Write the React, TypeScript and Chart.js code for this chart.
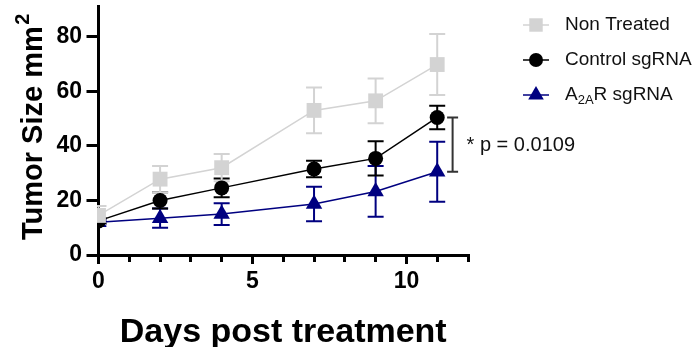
import React, { useEffect, useRef } from 'react';
import { Chart, registerables } from 'chart.js';
import { drawPoint } from 'chart.js/helpers';

Chart.register(...registerables);

const days = [0, 2, 4, 7, 9, 11];
const nonTreated = [14.5, 27.8, 32, 53, 56.5, 69.8];
const nonTreatedErr = [3.5, 4.8, 5, 8.4, 8.2, 11.2];
const control = [12.5, 20, 24.6, 31.5, 35.4, 50.4];
const controlErr = [1, 3, 3.4, 3, 6.3, 4.3];
const a2ar = [12, 13.5, 15, 18.7, 23.3, 30.5];
const a2arErr = [0.8, 3.5, 4, 6.3, 9.3, 11];

const seriesLabels = ['Non Treated', 'Control sgRNA', 'A2AR sgRNA'];
const a2arLabelParts = ['A', '2A', 'R sgRNA'];
const yTicks = [0, 20, 40, 60, 80];
const xMajorTicks = [0, 5, 10];
const xMinorTicks = [0, 1, 2, 3, 4, 5, 6, 7, 8, 9, 10, 11, 12];
const xTitle = 'Days post treatment';
const yTitle = 'Tumor Size mm';
const yTitleSup = '2';
const pValueLabel = '* p = 0.0109';
const bracketDay = 11.5;

const FONT = "'Liberation Sans', Arial, Helvetica, sans-serif";
const GRAY = '#d3d3d3';
const BLACK = '#000000';
const NAVY = '#000080';

const values = [nonTreated, control, a2ar];
const errors = [nonTreatedErr, controlErr, a2arErr];
const colors = [GRAY, BLACK, NAVY];
const styles = ['rect', 'circle', 'triangle'];
const radii = [10.5, 7.5, 9.5];

const errorBarPlugin = {
  id: 'errorBars',
  beforeDatasetsDraw(chart: any) {
    const ctx = chart.ctx;
    const xs = chart.scales.x;
    const ys = chart.scales.y;
    const area = chart.chartArea;
    ctx.save();
    ctx.beginPath();
    ctx.rect(area.left - 1.5, 0, chart.width, chart.height);
    ctx.clip();
    for (let i = values.length - 1; i >= 0; i--) {
      ctx.strokeStyle = colors[i];
      ctx.lineWidth = 2;
      days.forEach((d, j) => {
        const px = xs.getPixelForValue(d);
        const top = ys.getPixelForValue(values[i][j] + errors[i][j]);
        const bot = ys.getPixelForValue(values[i][j] - errors[i][j]);
        ctx.beginPath();
        ctx.moveTo(px, top);
        ctx.lineTo(px, bot);
        ctx.moveTo(px - 8, top);
        ctx.lineTo(px + 8, top);
        ctx.moveTo(px - 8, bot);
        ctx.lineTo(px + 8, bot);
        ctx.stroke();
      });
    }
    ctx.restore();
  },
};

const annotationPlugin = {
  id: 'annotations',
  afterDraw(chart: any) {
    const ctx = chart.ctx;
    const xs = chart.scales.x;
    const ys = chart.scales.y;
    const area = chart.chartArea;
    ctx.save();

    // Y title
    ctx.save();
    ctx.translate(42, 240);
    ctx.rotate(-Math.PI / 2);
    ctx.fillStyle = BLACK;
    ctx.textAlign = 'left';
    ctx.textBaseline = 'alphabetic';
    ctx.font = `bold 29px ${FONT}`;
    ctx.fillText(yTitle, 0, 0);
    const w = ctx.measureText(yTitle).width;
    ctx.font = `bold 20px ${FONT}`;
    ctx.fillText(yTitleSup, w + 1.5, -13);
    ctx.restore();

    // X title
    ctx.fillStyle = BLACK;
    ctx.font = `bold 34px ${FONT}`;
    ctx.textAlign = 'center';
    ctx.textBaseline = 'alphabetic';
    ctx.fillText(xTitle, (area.left + area.right) / 2, 341.7);

    // Significance bracket
    const bx = xs.getPixelForValue(bracketDay);
    const by1 = ys.getPixelForValue(control[control.length - 1]);
    const by2 = ys.getPixelForValue(a2ar[a2ar.length - 1]);
    ctx.strokeStyle = '#333333';
    ctx.lineWidth = 2;
    ctx.beginPath();
    ctx.moveTo(bx, by1);
    ctx.lineTo(bx, by2);
    ctx.moveTo(bx - 5.5, by1);
    ctx.lineTo(bx + 5.5, by1);
    ctx.moveTo(bx - 5.5, by2);
    ctx.lineTo(bx + 5.5, by2);
    ctx.stroke();
    ctx.fillStyle = '#111111';
    ctx.font = `20px ${FONT}`;
    ctx.textAlign = 'left';
    ctx.textBaseline = 'middle';
    ctx.fillText(pValueLabel, bx + 14, (by1 + by2) / 2 + 1);

    // Legend
    const legendY = [25, 60, 95];
    const legendRadii = [9.5, 7, 9];
    for (let i = 0; i < 3; i++) {
      const y = legendY[i];
      ctx.strokeStyle = colors[i];
      ctx.fillStyle = colors[i];
      ctx.lineWidth = 1.5;
      ctx.beginPath();
      ctx.moveTo(523, y);
      ctx.lineTo(549, y);
      ctx.stroke();
      drawPoint(ctx, { pointStyle: styles[i], radius: legendRadii[i], rotation: 0, borderWidth: 0 } as any, 536, y);
      ctx.fillStyle = '#111111';
      ctx.textAlign = 'left';
      ctx.textBaseline = 'middle';
      if (i < 2) {
        ctx.font = `19px ${FONT}`;
        ctx.fillText(seriesLabels[i], 565, y);
      } else {
        let x = 565;
        ctx.font = `19px ${FONT}`;
        ctx.fillText(a2arLabelParts[0], x, y);
        x += ctx.measureText(a2arLabelParts[0]).width;
        ctx.font = `13px ${FONT}`;
        ctx.fillText(a2arLabelParts[1], x, y + 5);
        x += ctx.measureText(a2arLabelParts[1]).width;
        ctx.font = `19px ${FONT}`;
        ctx.fillText(a2arLabelParts[2], x, y);
      }
    }
    ctx.restore();
  },
};

export default function App() {
  const ref = useRef<HTMLCanvasElement | null>(null);
  useEffect(() => {
    if (!ref.current) return;
    const clip = { left: 1.5, top: false, right: false, bottom: false } as any;
    const datasets = values.map((vals, i) => ({
      label: seriesLabels[i],
      data: days.map((d, j) => ({ x: d, y: vals[j] })),
      borderColor: colors[i],
      backgroundColor: colors[i],
      borderWidth: 1.5,
      pointStyle: styles[i],
      pointRadius: radii[i],
      pointHoverRadius: radii[i],
      pointBorderWidth: 0,
      pointBackgroundColor: colors[i],
      tension: 0,
      clip,
      xAxisID: 'x',
      yAxisID: 'y',
    }));
    const zeroPad = (s: any) => {
      s.paddingTop = 0;
      s.paddingBottom = 0;
      s.paddingLeft = 0;
      s.paddingRight = 0;
    };
    const chart = new Chart(ref.current, {
      type: 'line',
      data: { datasets } as any,
      options: {
        responsive: false,
        animation: false,
        devicePixelRatio: 1,
        layout: { autoPadding: false, padding: { left: 0, top: 6.7, right: 229, bottom: 0 } },
        plugins: { legend: { display: false }, tooltip: { enabled: false } },
        scales: {
          x: {
            type: 'linear',
            position: 'bottom',
            weight: 1,
            min: 0,
            max: 12,
            afterBuildTicks: (s: any) => {
              s.ticks = xMajorTicks.map((v) => ({ value: v }));
            },
            afterFit: (s: any) => {
              s.height = 92;
              zeroPad(s);
            },
            ticks: {
              autoSkip: false,
              maxRotation: 0,
              padding: 4,
              color: BLACK,
              font: { family: FONT, size: 23, weight: 'bold' },
            },
            grid: { drawOnChartArea: false, tickLength: 9, lineWidth: 3, color: BLACK },
            border: { display: true, color: BLACK, width: 3 },
          },
          xMinor: {
            type: 'linear',
            position: 'bottom',
            weight: 0,
            min: 0,
            max: 12,
            afterBuildTicks: (s: any) => {
              s.ticks = xMinorTicks.map((v) => ({ value: v }));
            },
            afterFit: (s: any) => {
              s.height = 0;
              zeroPad(s);
            },
            ticks: { display: false },
            grid: { drawOnChartArea: false, tickLength: 7, lineWidth: 3, color: BLACK },
            border: { display: false },
          },
          y: {
            type: 'linear',
            position: 'left',
            min: 0,
            max: 91,
            afterBuildTicks: (s: any) => {
              s.ticks = yTicks.map((v) => ({ value: v }));
            },
            afterFit: (s: any) => {
              s.width = 98.5;
              zeroPad(s);
            },
            ticks: {
              padding: 4.5,
              color: BLACK,
              font: { family: FONT, size: 23, weight: 'bold' },
            },
            grid: { drawOnChartArea: false, tickLength: 12, lineWidth: 3, color: BLACK },
            border: { display: true, color: BLACK, width: 3 },
          },
        },
      } as any,
      plugins: [errorBarPlugin, annotationPlugin],
    });
    return () => chart.destroy();
  }, []);
  return (
    <div style={{ position: 'absolute', left: 0, top: 0, width: 697, height: 347, background: '#fff' }}>
      <canvas ref={ref} width={697} height={347} style={{ display: 'block' }} />
    </div>
  );
}
